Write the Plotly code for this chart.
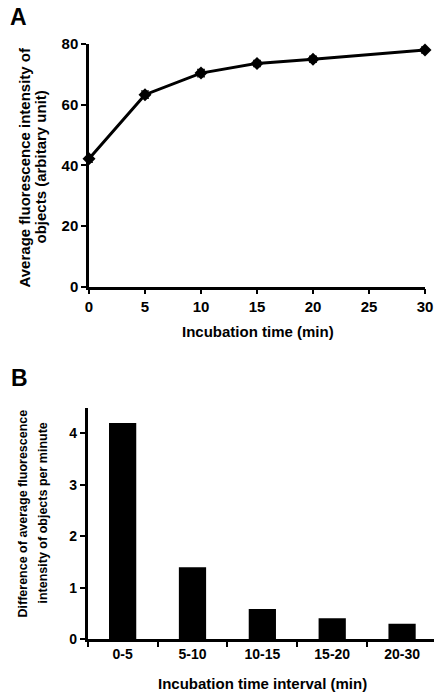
import plotly.graph_objects as go

# Panel A data
time_min = [0, 5, 10, 15, 20, 30]
avg_intensity = [42.2, 63.3, 70.4, 73.6, 75.0, 78.0]
intensity_err = [1.2, 1.2, 1.2, 1.0, 1.0, 1.0]
a_yticks = [0, 20, 40, 60, 80]
a_xticks = [0, 5, 10, 15, 20, 25, 30]

# Panel B data
intervals = ["0-5", "5-10", "10-15", "15-20", "20-30"]
diff_per_min = [4.2, 1.4, 0.59, 0.41, 0.30]
b_yticks = [0, 1, 2, 3, 4]

# page body has an 8px margin: figure starts at (8, 8) of the window
OFF = 8
W, H = 442 - OFF, 693 - OFF
FONT = "Liberation Sans, Arial, sans-serif"


def px(x):
    return (x - OFF) / W


def py(y):
    return 1 - (y - OFF) / H


fig = go.Figure()

fig.add_trace(go.Scatter(
    x=time_min, y=avg_intensity, mode="lines+markers",
    line=dict(color="black", width=3),
    marker=dict(symbol="diamond", size=10, color="black"),
    error_y=dict(type="data", array=intensity_err, color="#333", thickness=1.5, width=4),
    cliponaxis=False, xaxis="x", yaxis="y", showlegend=False,
))

fig.add_trace(go.Bar(
    x=intervals, y=diff_per_min, marker=dict(color="black", line=dict(width=0)),
    xaxis="x2", yaxis="y2", showlegend=False,
))

axis_common = dict(
    showline=True, linecolor="black", linewidth=2.5, showgrid=False, zeroline=False,
    ticks="outside", ticklen=5, tickwidth=2, tickcolor="black", automargin=False,
)
tf_a = dict(family=FONT, size=15, color="black", weight="bold")
tf_b = dict(family=FONT, size=14, color="black", weight="bold")

fig.update_layout(
    width=W, height=H, margin=dict(l=0, r=0, t=0, b=0),
    paper_bgcolor="white", plot_bgcolor="white",
    bargap=0.61,
    xaxis=dict(domain=[px(89), px(425)], range=[0, 30], tickvals=a_xticks,
               anchor="y", tickfont=tf_a, **axis_common),
    yaxis=dict(domain=[py(286.7), py(44)], range=[0, 80], tickvals=a_yticks,
               anchor="x", tickfont=tf_a, **axis_common),
    xaxis2=dict(domain=[px(87.7), px(437)], range=[-0.5, 4.5], type="category",
                tickson="boundaries", anchor="y2", tickfont=tf_b, **axis_common),
    yaxis2=dict(domain=[py(639.3), py(407.6)], range=[0, 4.5], tickvals=b_yticks,
                anchor="x2", tickfont=tf_b, **axis_common),
)

title_a = dict(family=FONT, size=15, color="black", weight="bold")
title_b_y = dict(family=FONT, size=12.5, color="black", weight="bold")
big = dict(family=FONT, size=23, color="black", weight="bold")
annotations = [
    dict(text="A", x=px(8), y=py(17), xanchor="left", yanchor="middle", font=big),
    dict(text="B", x=px(9), y=py(378), xanchor="left", yanchor="middle", font=big),
    dict(text="Incubation time (min)", x=px(258), y=py(331), xanchor="center",
         yanchor="middle", font=title_a),
    dict(text="Average fluorescence intensity of", x=px(24), y=py(167.5),
         xanchor="center", yanchor="middle", textangle=-90, font=title_a),
    dict(text="objects (arbitary unit)", x=px(40), y=py(167.5),
         xanchor="center", yanchor="middle", textangle=-90, font=title_a),
    dict(text="Incubation time interval (min)", x=px(262), y=py(683),
         xanchor="center", yanchor="middle", font=title_a),
    dict(text="Difference of average fluorescence", x=px(23), y=py(513.5),
         xanchor="center", yanchor="middle", textangle=-90, font=title_b_y),
    dict(text="intensity of objects per minute", x=px(43), y=py(513.5),
         xanchor="center", yanchor="middle", textangle=-90, font=title_b_y),
]
for a in annotations:
    a.update(xref="paper", yref="paper", showarrow=False)
fig.update_layout(annotations=annotations)

fig.write_html("out.html")
